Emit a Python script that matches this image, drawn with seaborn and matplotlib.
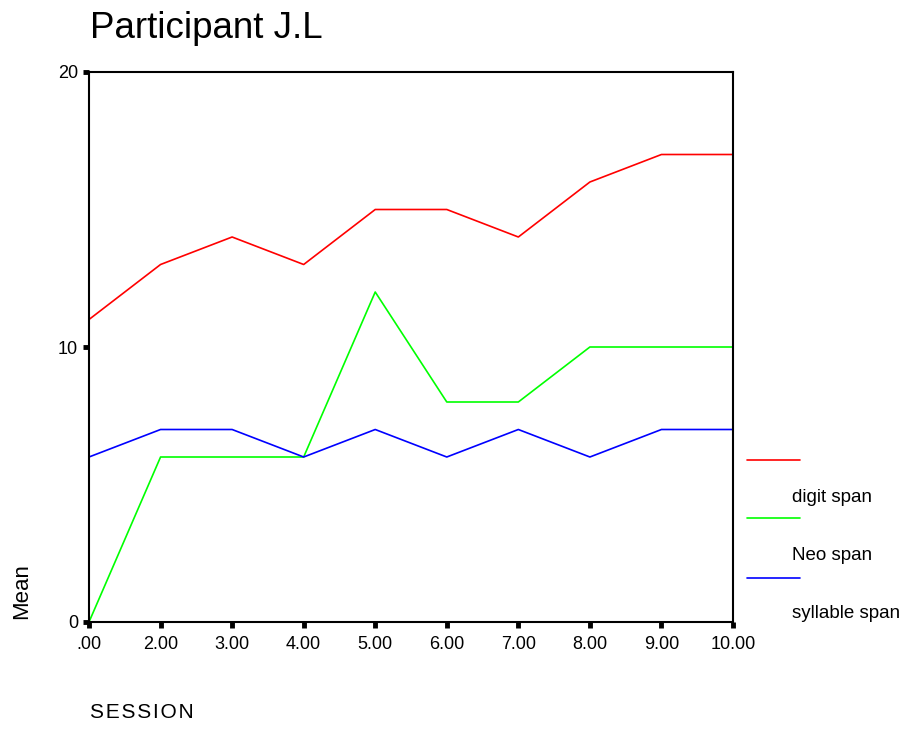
import pandas as pd
import matplotlib.pyplot as plt
import seaborn as sns
from matplotlib.lines import Line2D

# Session labels and mean spans per session
sessions = ['.00', '2.00', '3.00', '4.00', '5.00', '6.00', '7.00', '8.00', '9.00', '10.00']
digit_span = [11, 13, 14, 13, 15, 15, 14, 16, 17, 17]
neo_span = [0, 6, 6, 6, 12, 8, 8, 10, 10, 10]
syllable_span = [6, 7, 7, 6, 7, 6, 7, 6, 7, 7]
series_names = ['digit span', 'Neo span', 'syllable span']
series_colors = ['#ff0000', '#00ff00', '#0000ff']

df = pd.DataFrame({'SESSION': sessions * 3,
                   'Mean': digit_span + neo_span + syllable_span,
                   'series': [n for n in series_names for _ in sessions]})

sns.set_style('white')
plt.rcParams['font.family'] = ['Liberation Sans', 'DejaVu Sans']
plt.rcParams['text.color'] = 'black'

W, H = 908, 729
fig = plt.figure(figsize=(W / 100, H / 100), dpi=100)
ax = fig.add_axes([89 / W, 1 - 622 / H, 644 / W, 550 / H])

sns.lineplot(data=df, x='SESSION', y='Mean', hue='series', palette=series_colors,
             sort=False, linewidth=1.2, legend=False, ax=ax)

ax.set_xlim(0, len(sessions) - 1)
ax.set_ylim(0, 20)
ax.set_yticks([0, 10, 20])
ax.set_xticks(range(len(sessions)))
ax.set_xticklabels(sessions)
ax.set_xlabel('')
ax.set_ylabel('')
for s in ax.spines.values():
    s.set_color('black')
    s.set_linewidth(1.5)
ax.tick_params(axis='both', direction='out', length=4, width=3.5, colors='black',
               labelcolor='black', labelsize=13, pad=6, bottom=True, left=True)
ax.tick_params(axis='y', pad=4)

fig.text(90 / W, 1 - 28 / H, 'Participant J.L', fontsize=26.5, va='center', ha='left')
fig.text(90 / W, 1 - 712 / H, 'S E S S I O N'.replace(' ', '\u200a'), fontsize=15,
         va='center', ha='left')
fig.text(22 / W, 1 - 591 / H, 'Mean', fontsize=16, va='center', ha='center', rotation=90)

# legend drawn SPSS-style: labels sit below their lines
line_y = [460, 518, 578]
text_y = [497, 555, 613]
for c, ly in zip(series_colors, line_y):
    fig.add_artist(Line2D([747 / W, 800 / W], [1 - ly / H, 1 - ly / H], color=c, linewidth=1.2))
for name, ty in zip(series_names, text_y):
    fig.text(792 / W, 1 - ty / H, name, fontsize=13.5, va='center', ha='left')

fig.savefig('out.png', dpi=100)
